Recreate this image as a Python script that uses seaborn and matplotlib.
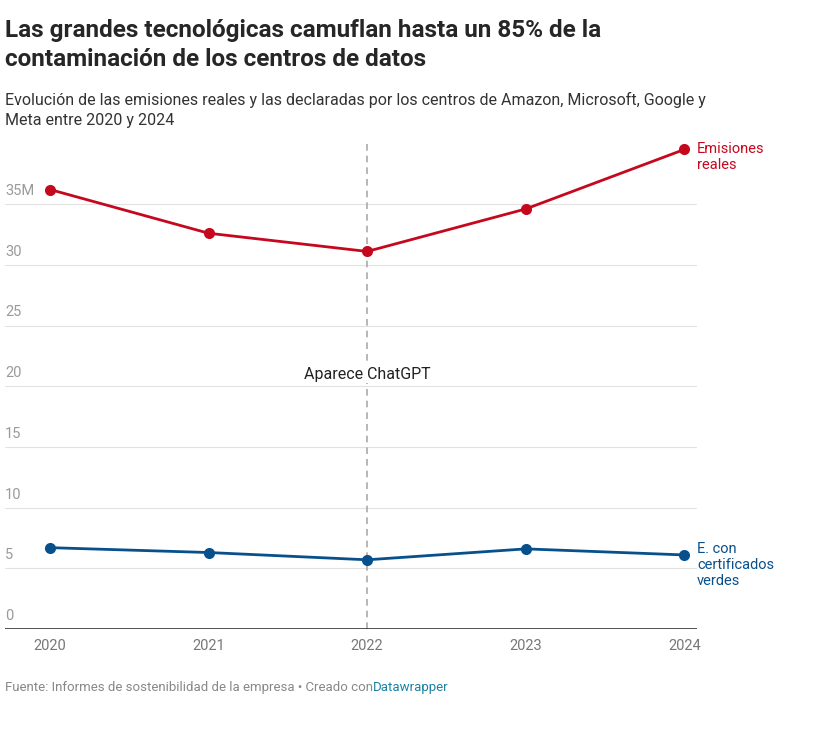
import matplotlib
matplotlib.use("Agg")
import matplotlib.pyplot as plt
import seaborn as sns
import pandas as pd

years = [2020, 2021, 2022, 2023, 2024]
reales = [36.2, 32.6, 31.1, 34.6, 39.5]
verdes = [6.7, 6.3, 5.7, 6.6, 6.1]
y_ticks = [0, 5, 10, 15, 20, 25, 30, 35]
y_labels = ["0", "5", "10", "15", "20", "25", "30", "35M"]

red = "#c5081e"
blue = "#08508c"

sns.set_theme(style="white")
plt.rcParams['font.family'] = ['Roboto', 'DejaVu Sans']

df = pd.DataFrame({"year": years * 2, "value": reales + verdes,
                   "serie": ["reales"] * 5 + ["verdes"] * 5})

fig = plt.figure(figsize=(8.13, 7.29), dpi=100)
ax = fig.add_axes([5 / 813, 100 / 729, 692 / 813, 485.6 / 729])
sns.lineplot(data=df, x="year", y="value", hue="serie", palette=[red, blue],
             marker="o", markersize=8, markeredgewidth=0, linewidth=2,
             legend=False, ax=ax)
ax.set_xlim(2019.716, 2024.08)
ax.set_ylim(0, 40)
for s in ax.spines.values():
    s.set_visible(False)
ax.set_xticks([])
ax.set_yticks([])
ax.set_xlabel("")
ax.set_ylabel("")
for t, lab in zip(y_ticks, y_labels):
    if t > 0:
        ax.axhline(t, color="#e2e2e2", linewidth=0.8, zorder=0)
    ax.text(2019.716, t + 0.5, lab, color="#9a9a9a", fontsize=10.5, va="bottom", ha="left")
ax.axhline(0, color="#333333", linewidth=1.2)
for y in years:
    ax.text(y, -0.8, str(y), color="#777777", fontsize=10.5, ha="center", va="top")

ax.axvline(2022, color="#aaaaaa", linestyle=(0, (4, 3)), linewidth=1.2, zorder=0)
ax.text(2022, 21, "Aparece ChatGPT", fontsize=11.5, color="#222222", ha="center", va="center",
        bbox=dict(facecolor="white", edgecolor="none", pad=1))

ax.text(2024.08, 40.1, "Emisiones\nreales", color=red, fontsize=10.5, va="top", ha="left",
        linespacing=1.2)
ax.text(2024.08, 7.2, "E. con\ncertificados\nverdes", color=blue, fontsize=10.5, va="top",
        ha="left", linespacing=1.2)

fig.text(5 / 813, 1 - 45 / 729, "Las grandes tecnológicas camuflan hasta un 85% de la\ncontaminación de los centros de datos",
         fontsize=17.5, fontweight="bold", va="center", ha="left", linespacing=1.3)
fig.text(5 / 813, 1 - 110 / 729, "Evolución de las emisiones reales y las declaradas por los centros de Amazon, Microsoft, Google y\nMeta entre 2020 y 2024",
         fontsize=11.5, color="#333333", va="center", ha="left", linespacing=1.35)
fig.text(5 / 813, 1 - 687 / 729, "Fuente: Informes de sostenibilidad de la empresa • Creado con",
         fontsize=9.5, color="#888888", va="center", ha="left")
fig.text(373 / 813, 1 - 687 / 729, "Datawrapper", fontsize=9.5, color="#1d81a2", va="center", ha="left")

fig.savefig("out.png", dpi=100)
